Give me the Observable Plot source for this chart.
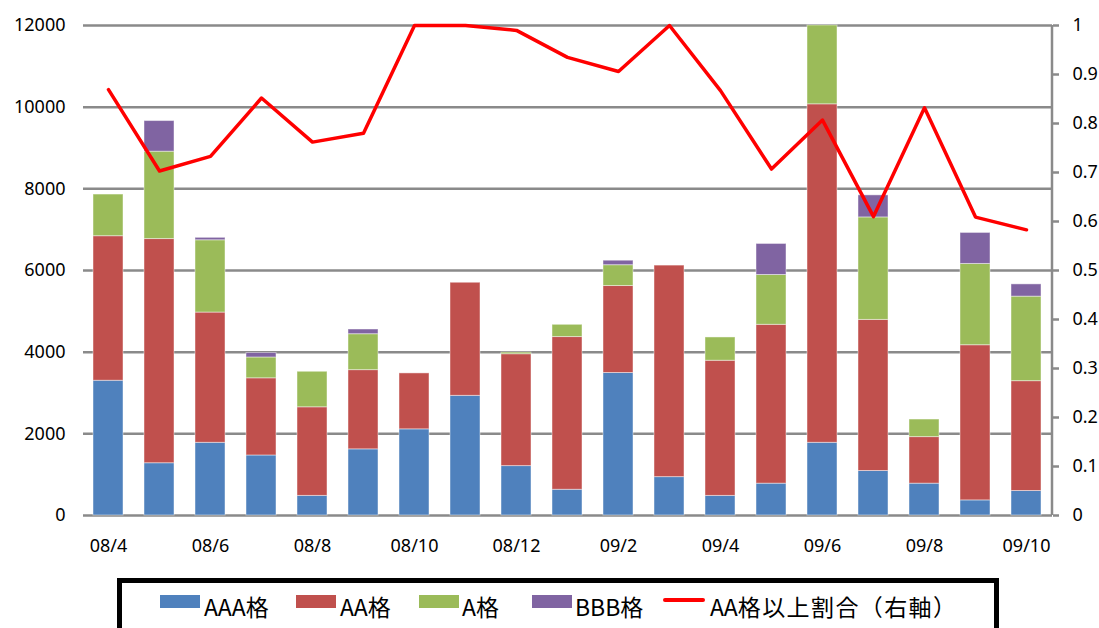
<!DOCTYPE html>
<html><head><meta charset="utf-8">
<script src="https://cdn.jsdelivr.net/npm/d3@7"></script>
<script src="https://cdn.jsdelivr.net/npm/@observablehq/plot@0.6"></script>
<style>
body{margin:0;background:#fff;}
#wrap{position:relative;width:1099px;height:628px;overflow:hidden;font-family:"Noto Sans",sans-serif;}
#chart{position:absolute;left:0;top:0;}
#legendBox{position:absolute;left:117px;top:578px;width:872px;height:70px;border:5px solid #000;background:#fff;box-sizing:content-box;}
.sw{position:absolute;width:40px;height:13px;top:595px;}
.lt{position:absolute;top:593px;font-family:"Liberation Sans Narrow","Noto Sans CJK JP",sans-serif;font-size:23px;line-height:26px;color:#000;white-space:nowrap;}
.ln{position:absolute;width:42px;height:4px;top:598px;background:#ff0000;border-radius:2px;}
.cj{letter-spacing:1.4px;}
</style>
</head><body>
<div id="wrap">
  <div id="chart"></div>
  <div id="legendBox"></div>
  <div id="legendItems"></div>
</div>
<script>
const months = ["08/4","08/5","08/6","08/7","08/8","08/9","08/10","08/11","08/12","09/1","09/2","09/3","09/4","09/5","09/6","09/7","09/8","09/9","09/10"];
const labeledMonths = ["08/4","08/6","08/8","08/10","08/12","09/2","09/4","09/6","09/8","09/10"];
const seriesNames = ["AAA格","AA格","A格","BBB格"];
const lineName = "AA格以上割合（右軸）";
const seriesColors = ["#4F81BD","#C0504D","#9BBB59","#8064A2"];
const aaa = [3300,1280,1780,1470,480,1620,2110,2930,1210,630,3490,940,480,780,1780,1090,780,370,600];
const aa  = [3540,5490,3190,1890,2170,1940,1370,2770,2740,3740,2130,5180,3310,3890,8290,3700,1140,3800,2690];
const a   = [1020,2140,1770,510,870,880,0,0,40,300,510,0,570,1220,1930,2510,430,1990,2070];
const bbb = [0,750,60,110,0,115,0,0,0,0,110,0,0,760,0,540,0,760,300];
const ratio = [0.869,0.703,0.733,0.852,0.762,0.780,1.0,1.0,0.990,0.935,0.906,1.0,0.867,0.707,0.807,0.610,0.832,0.609,0.583];
const leftTicks = [0,2000,4000,6000,8000,10000,12000];
const rightTicks = [0,0.1,0.2,0.3,0.4,0.5,0.6,0.7,0.8,0.9,1];
const leftMax = 12000, rightMax = 1;

const rows = [];
months.forEach((m,i)=>{
  [aaa,aa,a,bbb].forEach((arr,k)=>rows.push({month:m, series:seriesNames[k], value:arr[i]}));
});
const lineRows = months.map((m,i)=>({month:m, ratio:ratio[i]}));
const toLeft = r => r / rightMax * leftMax;

const W = 1099, mL = 83, mR = 47;
const step = (W - mL - mR) / months.length;

const chart = Plot.plot({
  width: W, height: 570,
  marginLeft: mL, marginRight: mR, marginTop: 25, marginBottom: 55,
  style: {fontFamily: "Noto Sans", fontSize: "18px", color: "#000", background: "#fff"},
  x: {type: "band", domain: months, paddingInner: 0.41, paddingOuter: 0.205},
  y: {domain: [0, leftMax]},
  color: {domain: seriesNames, range: seriesColors},
  marks: [
    Plot.ruleY(leftTicks, {stroke: "#8a8a8a", strokeWidth: 2.5}),
    Plot.barY(rows, {x: "month", y: "value", fill: "series", stroke: "#fff", strokeOpacity: 0.45, strokeWidth: 1}),
    Plot.ruleX([months[months.length-1]], {dx: step/2, stroke: "#8a8a8a", strokeWidth: 2.5, y1: 0, y2: leftMax}),
    Plot.line(lineRows, {x: "month", y: d => toLeft(d.ratio), stroke: "#ff0000", strokeWidth: 3.5}),
    Plot.axisY(leftTicks, {anchor: "left", tickSize: 0, tickPadding: 18, fontSize: 18, label: null, tickFormat: d => String(d)}),
    Plot.axisY(rightTicks.map(toLeft), {anchor: "right", tickSize: 6, tickPadding: 14, fontSize: 18, stroke: "#8a8a8a", strokeWidth: 2.5, label: null, tickFormat: d => String(Math.round(d / leftMax * rightMax * 10) / 10)}),
    Plot.axisX(labeledMonths, {anchor: "bottom", tickSize: 0, tickPadding: 24, fontSize: 18, label: null})
  ]
});
document.getElementById("chart").appendChild(chart);

// legend
const items = document.getElementById("legendItems");
const swLeft = [160, 296, 419, 532];
const txLeft = [204, 340, 462, 575];
seriesNames.forEach((n,i)=>{
  const s = document.createElement("div"); s.className="sw"; s.style.left=swLeft[i]+"px"; s.style.background=seriesColors[i]; items.appendChild(s);
  const t = document.createElement("div"); t.className="lt"; t.style.left=txLeft[i]+"px"; t.textContent=n; items.appendChild(t);
});
const l = document.createElement("div"); l.className="ln"; l.style.left="663px"; items.appendChild(l);
const lt = document.createElement("div"); lt.className="lt"; lt.style.left="710px";
const latin = lineName.match(/^[A-Za-z]+/)[0];
const s1 = document.createElement("span"); s1.textContent = latin;
const s2 = document.createElement("span"); s2.className = "cj"; s2.textContent = lineName.slice(latin.length);
lt.appendChild(s1); lt.appendChild(s2);
items.appendChild(lt);
</script>
</body></html>
